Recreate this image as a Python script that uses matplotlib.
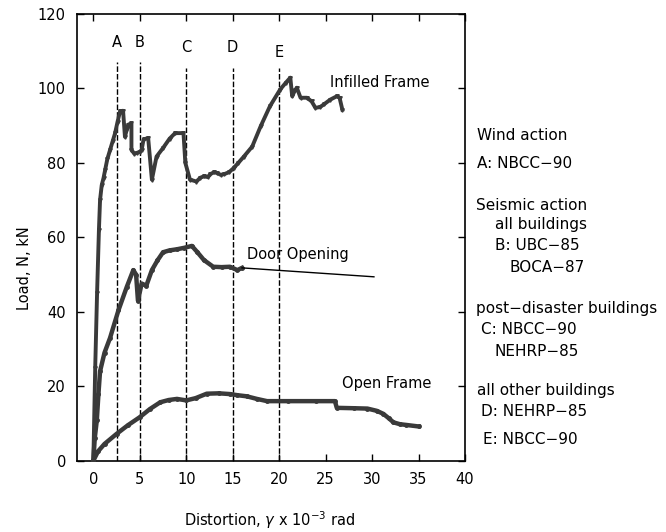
import matplotlib
matplotlib.use("Agg")
import matplotlib.pyplot as plt

# ---------------- data ----------------
infilled_x = [0, 0.2, 0.4, 0.6, 0.72, 0.9, 1.1, 1.26, 1.5, 1.8, 2.1, 2.34, 2.6, 2.88, 3.2, 3.4,
              3.6, 3.77, 4.1, 4.1, 4.4, 4.7, 5.0, 5.2, 5.4, 5.9, 6.3, 6.8, 7.5, 8.2, 8.8, 9.7,
              9.9, 10.4, 11.1, 11.5, 11.9, 12.3, 12.6, 13.0, 13.3, 13.7, 14.1, 14.6, 15.1,
              15.6, 16.2, 17.1, 18.0, 19.0, 20.1, 20.7, 21.2, 21.4, 21.7, 21.9, 22.3, 23.0,
              23.5, 23.9, 24.4, 24.8, 25.5, 26.2, 26.5, 26.8]
infilled_y = [0, 25, 45, 62, 70, 74, 76, 78, 81, 83.5, 86, 88, 91, 93.9, 94, 87,
              89, 90.3, 90.6, 83.5, 82.5, 82.7, 83, 83.5, 86.3, 86.7, 75.5, 81.7, 84, 86.5, 88, 88,
              80, 75.5, 75, 76, 76.4, 76.2, 77, 77.5, 77.3, 76.8, 77, 77.5, 78.6,
              80, 81.7, 84.4, 89.8, 95.2, 99.7, 101.5, 102.9, 97.9, 99.5, 100.2, 97.5, 97.5,
              96.5, 94.8, 95.0, 95.7, 97, 97.9, 97.5, 94.3]

door_x = [0, 0.15, 0.37, 0.55, 0.72, 1.2, 1.8, 2.7, 3.6, 4.3, 4.6, 4.8, 5.2, 5.7, 6.3,
          6.9, 7.5, 8.2, 9.0, 9.8, 10.6, 11.2, 11.9, 12.9, 13.8, 14.7, 15.5, 16.0]
door_y = [0, 6, 10.8, 18, 24, 29, 33, 40.4, 46.7, 51.2, 50, 43, 47.6, 47, 51.2,
          53.8, 56, 56.5, 56.8, 57.2, 57.7, 56, 53.9, 52.1, 52.0, 52.1, 51.2, 51.8]
door_ext_x = [16.0, 30.2]
door_ext_y = [51.8, 49.4]

open_x = [0, 0.5, 1.2, 2.5, 3.7, 5.0, 6.1, 7.2, 8.1, 9.0, 10.0, 11.0, 12.2, 13.5, 14.7,
          15.5, 16.5, 17.6, 18.7, 21.0, 24.0, 26.0, 26.2, 28.0, 29.5, 30.5, 31.2, 31.8,
          32.3, 33.0, 33.7, 35.0]
open_y = [0, 2.5, 4.5, 7.2, 9.5, 11.7, 13.9, 15.7, 16.3, 16.6, 16.2, 16.8, 18.0, 18.1, 17.9,
          17.6, 17.3, 16.6, 16.0, 16.0, 16.0, 16.0, 14.2, 14.1, 14.0, 13.4, 12.6, 11.4,
          10.3, 9.8, 9.6, 9.2]

code_x = [2.5, 5.0, 10.0, 15.0, 20.0]
code_top = [107, 107, 105.5, 105.5, 105.5]
code_labels = ["A", "B", "C", "D", "E"]
code_label_y = [112.3, 112.3, 111, 111, 109.7]

right_notes = [
    ("Wind action", 477, 136),
    ("A: NBCC\u221290", 477, 164),
    ("Seismic action", 476, 205),
    ("all buildings", 495, 225),
    ("B: UBC\u221285", 495, 246),
    ("BOCA\u221287", 510, 267),
    ("post\u2212disaster buildings", 476, 308),
    ("C: NBCC\u221290", 481, 330),
    ("NEHRP\u221285", 495, 351),
    ("all other buildings", 477, 390),
    ("D: NEHRP\u221285", 481, 411),
    ("E: NBCC\u221290", 483, 439),
]

# ---------------- figure ----------------
W, H = 666, 532
fig = plt.figure(figsize=(W / 100, H / 100), dpi=100)
ax = fig.add_axes([77 / W, 1 - 460.7 / H, (465 - 77) / W, (460.7 - 14) / H])

fs = 10.5
col = "#3a3a3a"

ax.plot(infilled_x, infilled_y, color=col, lw=2.8, marker="v", ms=2.5, zorder=3)
ax.plot(door_x, door_y, color=col, lw=3.2, marker="o", ms=2.5, zorder=3)
ax.plot(door_ext_x, door_ext_y, color="black", lw=1.0, zorder=3)
ax.plot(open_x, open_y, color=col, lw=3.2, marker="o", ms=2.5, zorder=3)

for x, top, lab, ly in zip(code_x, code_top, code_labels, code_label_y):
    ax.vlines(x, 0, top, colors="black", linestyles=(0, (4, 1.5)), lw=1.0, zorder=2)
    ax.text(x, ly, lab, ha="center", va="center", fontsize=fs)

ax.text(25.5, 101.5, "Infilled Frame", fontsize=fs, va="center", ha="left")
ax.text(16.5, 55.5, "Door Opening", fontsize=fs, va="center", ha="left")
ax.text(26.8, 20.7, "Open Frame", fontsize=fs, va="center", ha="left")

ax.set_xlim(-1.76, 40)
ax.set_ylim(0, 120)
ax.set_xticks(range(0, 41, 5))
ax.set_yticks(range(0, 121, 20))
ax.tick_params(direction="in", top=True, right=True, labelsize=fs, length=5, width=1, pad=8)
for s in ax.spines.values():
    s.set_linewidth(1.2)

ax.set_xlabel(r"Distortion, $\gamma$ x 10$^{-3}$ rad", fontsize=fs)
ax.set_ylabel("Load, N, kN", fontsize=fs)
ax.xaxis.set_label_coords(0.497, -0.108)
ax.yaxis.set_label_coords(-0.116, 0.43)

for txt, px, py in right_notes:
    fig.text(px / W, 1 - py / H, txt, fontsize=11, ha="left", va="center")

fig.savefig("out.png", dpi=100)
